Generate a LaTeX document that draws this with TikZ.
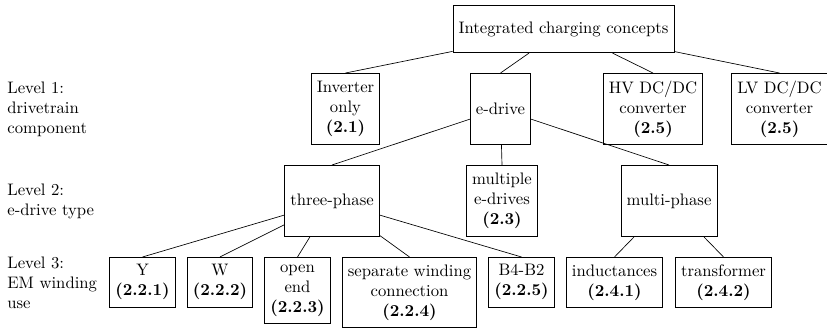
\documentclass[tikz,border=0pt]{standalone}
\usetikzlibrary{positioning}

\tikzset{
  box/.style={draw, align=center, line width=0.5pt},
  rootbox/.style={box, minimum height=1cm},
  tallbox/.style={box, minimum height=1.5cm},
  leafbox/.style={box, anchor=north, inner ysep=4.3pt},
  level/.style={anchor=west, align=left}
}

\begin{document}
\begin{tikzpicture}[x=0.6pt,y=-0.6pt]
    \newcommand{\rowa}{109}
    \newcommand{\rowb}{201}
    \newcommand{\rowc}{257}
    \useasboundingbox (0,0) rectangle (827,329);

    % root
    \node[rootbox] (root) at (563.5,29) {Integrated charging concepts};

    % level 1: drivetrain component
    \node[tallbox] (inv) at (345.5,\rowa) {Inverter\\only\\\textbf{(2.1)}};
    \node[tallbox] (edrive) at (500.5,\rowa) {e-drive};
    \node[tallbox] (hv) at (653,\rowa) {HV DC/DC\\converter\\\textbf{(2.5)}};
    \node[tallbox] (lv) at (779.5,\rowa) {LV DC/DC\\converter\\\textbf{(2.5)}};

    % level 2: e-drive type
    \node[tallbox] (three) at (332,\rowb) {three-phase};
    \node[tallbox] (multi) at (502,\rowb) {multiple\\e-drives\\\textbf{(2.3)}};
    \node[tallbox] (mphase) at (669,\rowb) {multi-phase};

    % level 3: EM winding use
    \node[leafbox] (y) at (142.5,\rowc) {Y\\\textbf{(2.2.1)}};
    \node[leafbox] (w) at (220,\rowc) {W\\\textbf{(2.2.2)}};
    \node[leafbox] (open) at (297.5,\rowc) {open\\end\\\textbf{(2.2.3)}};
    \node[leafbox] (sep) at (409.5,\rowc) {separate winding\\connection\\\textbf{(2.2.4)}};
    \node[leafbox] (b4) at (521.5,\rowc) {B4-B2\\\textbf{(2.2.5)}};
    \node[leafbox] (ind) at (614.5,\rowc) {inductances\\\textbf{(2.4.1)}};
    \node[leafbox] (trafo) at (723.5,\rowc) {transformer\\\textbf{(2.4.2)}};

    % tree edges
    \foreach \child in {inv,edrive,hv,lv}
        \draw (root) -- (\child.north);
    \foreach \child in {three,multi,mphase}
        \draw (edrive) -- (\child.north);
    \foreach \child in {y,w,open,sep,b4}
        \draw (three) -- (\child.north);
    \foreach \child in {ind,trafo}
        \draw (mphase) -- (\child.north);

    % level captions
    \node[level] (lvla) at (1.5,\rowa) {Level 1:\\drivetrain\\component};
    \node[level] (lvlb) at (1.5,\rowb) {Level 2:\\e-drive type};
    \node[level] (lvlc) at (1.5,282.5) {Level 3:\\EM winding\\use};
\end{tikzpicture}
\end{document}
